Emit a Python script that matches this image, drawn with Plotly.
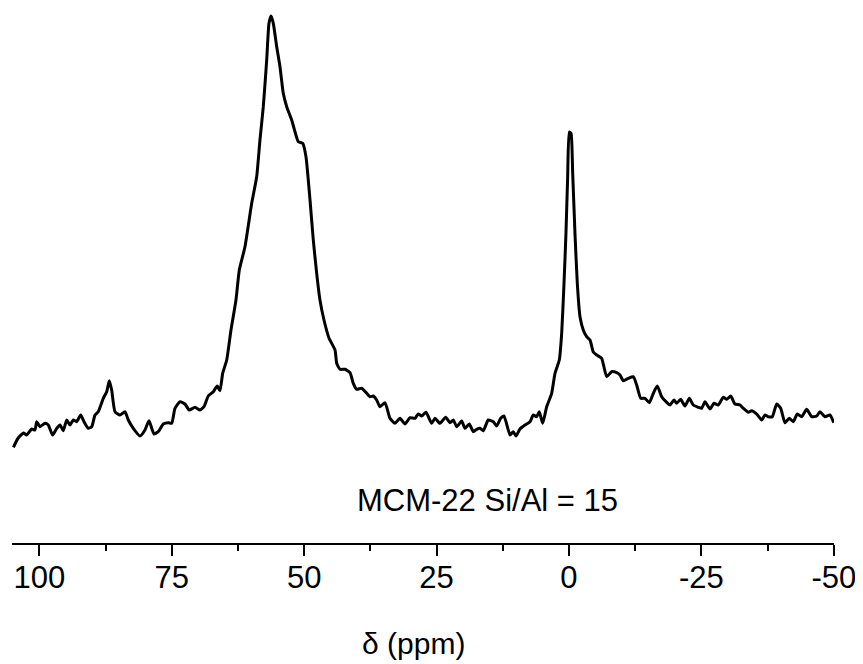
import plotly.graph_objects as go

# Chemical shift (ppm) and intensity (arb. units)
shift_ppm = [
    104.9, 104.0, 103.0, 102.4, 101.45, 100.83, 100.51, 99.89, 98.94, 98.32,
    97.49, 96.73, 96.11, 95.49, 94.84, 94.22, 93.60, 92.96, 92.20, 91.58,
    90.77, 90.12, 89.50, 88.88, 87.93, 87.29, 86.80, 86.35, 85.72, 84.78,
    83.84, 83.21, 82.27, 81.00, 80.06, 79.30, 78.36, 77.55, 76.60, 75.66,
    75.02, 74.40, 73.45, 72.51, 71.70, 70.62, 69.67, 68.92, 68.11, 67.16,
    66.41, 65.90, 65.39, 64.63, 63.82, 62.88, 62.25, 61.18, 59.91, 58.97,
    58.35, 57.72, 57.08, 56.65, 56.27, 55.83, 55.19, 54.57, 53.95, 53.30,
    52.36, 51.74, 51.11, 50.28, 49.66, 48.90, 48.28, 47.64, 47.02, 46.26,
    45.32, 44.18, 43.86, 43.24, 42.30, 41.35, 40.73, 40.09, 39.14, 38.20,
    37.58, 36.95, 36.31, 35.69, 34.74, 33.80, 32.85, 31.91, 30.97, 30.02,
    29.08, 28.46, 27.81, 27.00, 25.93, 25.30, 24.36, 23.28, 22.47, 21.85,
    21.20, 20.26, 19.64, 18.83, 18.07, 17.43, 16.81, 16.18, 15.24, 14.29,
    13.65, 12.90, 12.27, 11.14, 10.52, 10.01, 9.25, 8.31, 7.36, 6.74,
    6.10, 5.61, 4.97, 4.21, 3.27, 2.64, 1.83, 1.38, 0.94, 0.57,
    0.25, -0.06, -0.38, -0.70, -1.13, -1.57, -2.08, -2.70, -3.34, -3.97,
    -4.59, -5.23, -6.17, -7.12, -8.06, -9.01, -9.63, -10.25, -11.20, -12.14,
    -12.78, -13.54, -14.35, -15.16, -15.92, -16.67, -17.50, -18.32, -19.07, -19.83,
    -20.34, -21.09, -21.90, -22.72, -23.47, -24.41, -25.06, -25.68, -26.62, -27.38,
    -28.19, -29.13, -29.78, -30.53, -31.34, -32.29, -32.91, -33.86, -34.50, -35.44,
    -36.39, -37.01, -37.63, -38.39, -39.22, -39.97, -40.78, -41.60, -42.35, -43.11,
    -43.94, -44.88, -45.83, -46.77, -47.39, -48.34, -49.28, -50.0,
]
intensity = [
    95.7, 105, 110, 108, 114, 113, 121.3, 116.3, 119.7, 118,
    108, 114.7, 118, 112.3, 123, 118, 123, 121.3, 128, 121.3,
    114.7, 116.3, 128, 131.3, 144.7, 151.3, 162.3, 153, 131.3, 128,
    131.3, 123, 114.7, 107, 113, 122.3, 109, 111.3, 119, 120.3,
    119.7, 134.7, 141.3, 139, 133, 135.7, 133, 136.3, 147, 151.3,
    157, 152.3, 169.7, 183, 213, 243, 273, 296.3, 339.7, 366.3,
    403, 436.3, 483, 519.7, 527, 519.7, 496.3, 476.3, 449.7, 436.3,
    423, 411.3, 401.3, 399.7, 386.3, 343, 303, 269.7, 243, 223,
    205, 193, 179.7, 173.7, 173.7, 170.3, 159.7, 153.7, 154.7, 149.7,
    146.3, 147, 143, 136.3, 140.3, 124.7, 119.7, 124.7, 119, 125.3,
    124.7, 129, 127, 130.7, 119.7, 124.7, 119.7, 125.7, 120.3, 123,
    116.3, 122, 114.7, 119, 111.3, 113.7, 114.7, 112.3, 123, 121.3,
    117, 124.7, 127, 108, 111.3, 107, 114, 118, 121.3, 128,
    126.3, 131.3, 119.7, 136.3, 149.7, 169.7, 183, 209.7, 259.7, 309.7,
    366.3, 411, 409.7, 369.7, 309.7, 259.7, 226.3, 213, 206.3, 203,
    191, 188, 184.7, 166.3, 171.3, 170.3, 168, 162.3, 164.7, 166.3,
    158, 144.7, 144.7, 140.3, 149.7, 157, 146.3, 141.3, 138, 143,
    139.7, 143.7, 137, 144.7, 138, 135.7, 134.7, 141.3, 134, 139.7,
    138, 145.7, 143.7, 147, 139, 138, 134.7, 130.7, 132.3, 129,
    123, 128, 126.3, 126.3, 139, 134.7, 120.3, 124.7, 121.3, 129,
    126.3, 133.7, 126.3, 127, 131.3, 126.3, 128, 120.3,
]

tick_vals = [100, 75, 50, 25, 0, -25, -50]
tick_text = ["100", "75", "50", "25", "0", "-25", "-50"]
sample_label = "MCM-22 Si/Al = 15"
x_title = "δ (ppm)"

font_family = "Liberation Sans, Arial, sans-serif"

fig = go.Figure()
fig.add_trace(go.Scatter(
    x=shift_ppm, y=intensity, mode="lines",
    line=dict(color="black", width=3, shape="spline", smoothing=0.5),
    showlegend=False, hoverinfo="skip",
))

fig.add_annotation(
    x=15.3, y=43, xref="x", yref="y", text=sample_label, showarrow=False,
    font=dict(family=font_family, size=31, color="black"),
    xanchor="center", yanchor="middle",
)

# x-axis title, placed as in the reference (slightly left of centre)
fig.add_annotation(
    x=0.488, y=-0.189, xref="paper", yref="paper", text=x_title,
    showarrow=False, xanchor="center", yanchor="middle",
    font=dict(family=font_family, size=30, color="black"),
)

fig.update_layout(
    width=855, height=656,
    margin=dict(l=4, r=29, t=2, b=121),
    paper_bgcolor="white", plot_bgcolor="white",
    font=dict(family=font_family, size=31, color="black"),
    xaxis=dict(
        range=[105.17, -50.04], autorange=False,
        showline=True, linecolor="black", linewidth=2,
        showgrid=False, zeroline=False,
        ticks="outside", ticklen=11, tickwidth=2, tickcolor="black",
        tickvals=tick_vals, ticktext=tick_text,
        ticklabelstandoff=-5,
        tickfont=dict(family=font_family, size=31, color="black"),
        minor=dict(ticks="outside", ticklen=6, tickwidth=2, tickcolor="black",
                   dtick=12.5, tick0=0, showgrid=False),
        automargin=False,
    ),
    yaxis=dict(range=[0, 533], visible=False, showgrid=False, zeroline=False),
)

fig.write_html("out.html")
